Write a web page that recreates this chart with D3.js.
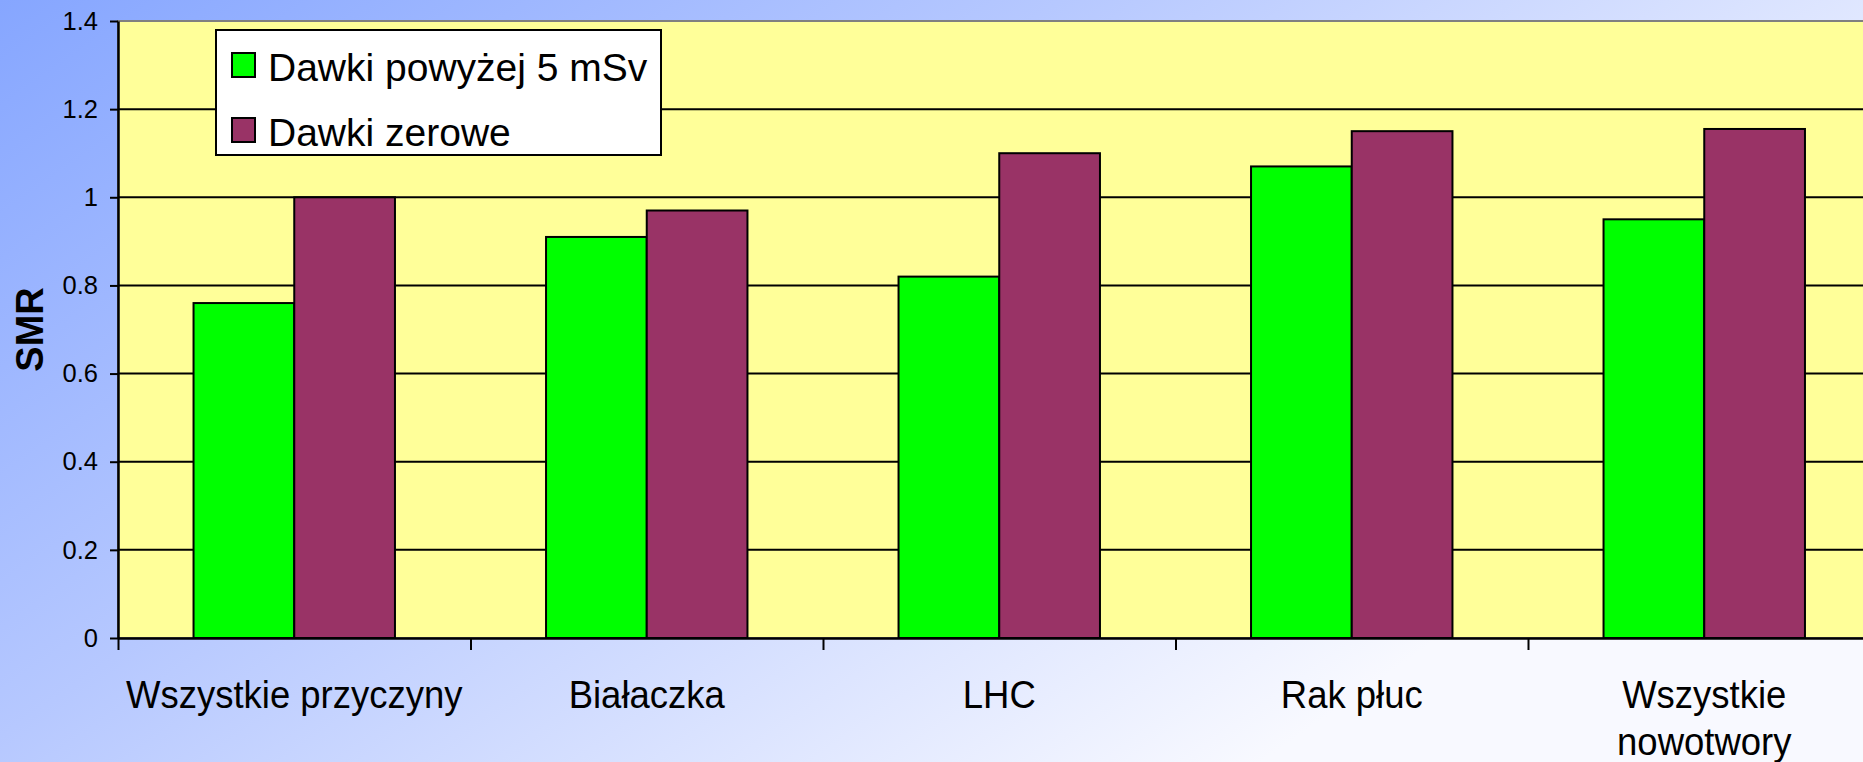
<!DOCTYPE html>
<html>
<head>
<meta charset="utf-8">
<script src="https://cdn.jsdelivr.net/npm/d3@7"></script>
<style>
  body { margin: 0; overflow: hidden; }
  svg { display: block; font-family: "Liberation Sans", Arial, sans-serif; }
</style>
</head>
<body>
<div id="chart"></div>
<script>
// dane
var categories = ["Wszystkie przyczyny", "Białaczka", "LHC", "Rak płuc", "Wszystkie nowotwory"];
var seriesNames = ["Dawki powyżej 5 mSv", "Dawki zerowe"];
var highDose = [0.76, 0.91, 0.82, 1.07, 0.95];
var zeroDose = [1.00, 0.97, 1.10, 1.15, 1.155];
var yTicks = [0, 0.2, 0.4, 0.6, 0.8, 1, 1.2, 1.4];

var width = 1863, height = 762;
var plotLeft = 118, plotTop = 21, plotBottom = 638;
var plotW = 5 * 352.5;
var colors = ["#00FF00", "#993366"];

var svg = d3.select("#chart").append("svg")
	.attr("width", width)
	.attr("height", height);

// tło z gradientem
var grad = svg.append("defs").append("linearGradient")
	.attr("id", "bg")
	.attr("gradientUnits", "userSpaceOnUse")
	.attr("x1", 0).attr("y1", 0)
	.attr("x2", 768).attr("y2", 1105);
grad.append("stop").attr("offset", "0").attr("stop-color", "#86A6FF");
grad.append("stop").attr("offset", "0.45").attr("stop-color", "#B6C8FF");
grad.append("stop").attr("offset", "1").attr("stop-color", "#F8F9FF");
svg.append("rect").attr("width", width).attr("height", height).attr("fill", "url(#bg)");

var x = d3.scaleBand().domain(categories).range([plotLeft, plotLeft + plotW]).padding(0);
var xs = d3.scaleBand().domain(seriesNames).range([0, x.bandwidth()])
	.paddingInner(0).paddingOuter(0.75);
var y = d3.scaleLinear().domain([0, 1.4]).range([plotBottom, plotTop]);

// obszar wykresu
svg.append("rect")
	.attr("x", plotLeft).attr("y", y(1.4))
	.attr("width", plotW).attr("height", y(0) - y(1.4))
	.attr("fill", "#FFFF99")
	.attr("stroke", "#808080")
	.attr("stroke-width", 2);

// linie siatki
svg.append("g").selectAll("line")
	.data(yTicks.filter(function(d){ return d > 0 && d < 1.4; }))
	.enter().append("line")
	.attr("x1", plotLeft).attr("x2", plotLeft + plotW)
	.attr("y1", function(d){ return y(d); })
	.attr("y2", function(d){ return y(d); })
	.attr("stroke", "#000")
	.attr("stroke-width", 2);

// słupki
var rows = categories.map(function(c, i){
	return [{cat: c, s: seriesNames[0], v: highDose[i], k: 0},
	        {cat: c, s: seriesNames[1], v: zeroDose[i], k: 1}];
});
svg.append("g").selectAll("g")
	.data(rows)
	.enter().append("g")
	.attr("transform", function(d){ return "translate(" + x(d[0].cat) + ",0)"; })
	.selectAll("rect")
	.data(function(d){ return d; })
	.enter().append("rect")
	.attr("x", function(d){ return xs(d.s); })
	.attr("y", function(d){ return y(d.v); })
	.attr("width", xs.bandwidth())
	.attr("height", function(d){ return y(0) - y(d.v); })
	.attr("fill", function(d){ return colors[d.k]; })
	.attr("stroke", "#000")
	.attr("stroke-width", 2);

// oś Y
var yAxis = svg.append("g")
	.attr("transform", "translate(" + plotLeft + ",0)")
	.call(d3.axisLeft(y).tickValues(yTicks).tickSize(8).tickSizeOuter(0).tickPadding(12)
		.tickFormat(function(d){ return String(+d.toFixed(1)); }));
yAxis.selectAll("text").attr("font-size", 25.5).attr("fill", "#000").style("font-family", "'Liberation Sans', Arial, sans-serif");
yAxis.selectAll("line").attr("stroke-width", 2);
yAxis.select(".domain").attr("stroke-width", 2.5);

// oś X - znaczniki na granicach kategorii
var xb = d3.scaleLinear().domain([0, categories.length]).range([plotLeft, plotLeft + plotW]);
var xAxis = svg.append("g")
	.attr("transform", "translate(0," + plotBottom + ")")
	.call(d3.axisBottom(xb).ticks(categories.length).tickSize(12).tickSizeOuter(0).tickFormat(""));
xAxis.selectAll("line").attr("stroke-width", 2);
xAxis.select(".domain").attr("stroke-width", 2.5);

// etykiety kategorii (lekko rozciągnięte w pionie jak w oryginale)
var lbl = svg.append("g").selectAll("text")
	.data(categories)
	.enter().append("text")
	.attr("transform", function(d){ return "translate(" + (x(d) + x.bandwidth() / 2) + ",708) scale(1,1.08)"; })
	.attr("text-anchor", "middle")
	.attr("font-size", 36.5)
	.attr("fill", "#000");
lbl.each(function(d){
	var words = d === "Wszystkie nowotwory" ? d.split(" ") : [d];
	var t = d3.select(this);
	words.forEach(function(w, i){
		t.append("tspan")
			.attr("x", 0)
			.attr("dy", i === 0 ? 0 : 47 / 1.08)
			.text(w);
	});
});

// tytuł osi Y
svg.append("text")
	.attr("transform", "translate(43," + ((plotTop + plotBottom) / 2) + ") rotate(-90)")
	.attr("text-anchor", "middle")
	.attr("font-size", 38)
	.attr("font-weight", "bold")
	.attr("fill", "#000")
	.text("SMR");

// legenda
var leg = svg.append("g");
leg.append("rect")
	.attr("x", 216).attr("y", 30)
	.attr("width", 445).attr("height", 125)
	.attr("fill", "#fff")
	.attr("stroke", "#000")
	.attr("stroke-width", 2);
var items = leg.selectAll("g")
	.data(seriesNames)
	.enter().append("g")
	.attr("transform", function(d, i){ return "translate(232," + (65 + i * 65) + ")"; });
items.append("rect")
	.attr("x", 0).attr("y", -12)
	.attr("width", 23).attr("height", 24)
	.attr("fill", function(d, i){ return colors[i]; })
	.attr("stroke", "#000")
	.attr("stroke-width", 2);
items.append("text")
	.attr("x", 36).attr("y", 16)
	.attr("font-size", 39)
	.attr("fill", "#000")
	.text(function(d){ return d; });
</script>
</body>
</html>
